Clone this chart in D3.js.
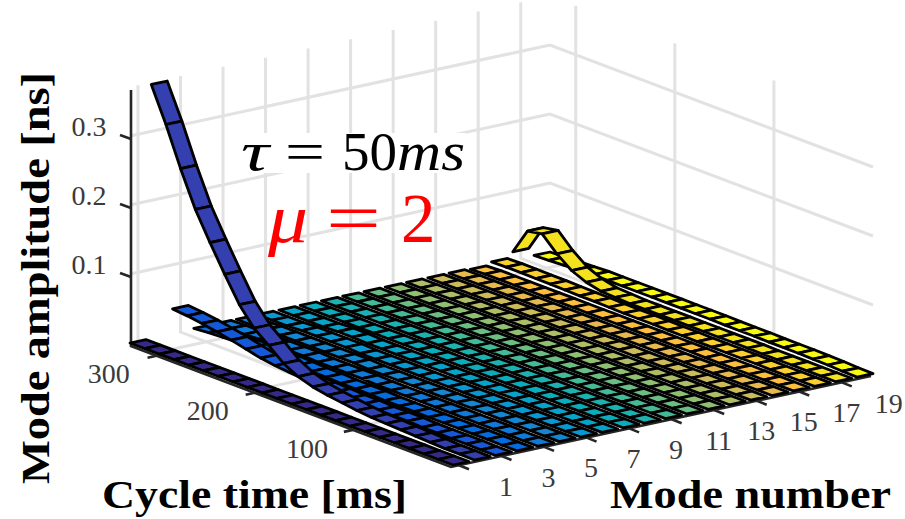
<!DOCTYPE html>
<html><head><meta charset="utf-8">
<script src="https://cdn.jsdelivr.net/npm/d3@7/dist/d3.min.js"></script>
<style>html,body{margin:0;padding:0;background:#fff}svg{display:block}text{font-family:"Liberation Serif",serif}</style>
</head><body><svg id="c" width="905" height="519"></svg>
<script>
const cycleTimes=[0,14.8,29.6,44.5,59.3,74.1,88.9,103.7,118.5,133.4,148.2,163,177.8,192.6,207.5,222.3,237.1,251.9,266.7,281.5,296.4,311.2,326];
const modeTicks=[1,3,5,7,9,11,13,15,17,19];
const timeTicks=[100,200,300];
const ampTicks=[0.1,0.2,0.3];
const ampTickLabels=["0.1","0.2","0.3"];
// listed from the longest cycle time down to the shortest
const amp1=[0,0,0,0,0,0,0,0,0,0,0,0,0,0,0,0,0,0,0,0,0,0,0];
const amp2=[.368,.318,.262,.211,.171,.133,.097,.071,.054,.036,.025,.018,.014,.011,.008,.006,.005,.004,.003,.002,.001,.001,.0005];
const amp3=[.036,.034,.031,.027,.023,.018,.013,.010,.008,.006,.005,.004,.003,.003,.002,.002,.002,.001,.001,.001,.001,.0005,.0005];
const amp4=[.001,.003,.004,.005,.006,.006,.005,.004,.003,.003,.002,.002,.002,.001,.001,.001,.001,.001,.001,.001,.001,.0005,.0005];
const amp5=[.001,.002,.002,.003,.003,.003,.003,.002,.002,.002,.002,.001,.001,.001,.001,.001,.001,.001,.001,.001,.0005,.0005,.0005];
const amp6=[.001,.001,.002,.002,.002,.002,.002,.002,.002,.001,.001,.001,.001,.001,.001,.001,.001,.001,.001,.0005,.0005,.0005,.0005];
const amp7=[.001,.001,.001,.002,.002,.002,.002,.001,.001,.001,.001,.001,.001,.001,.001,.001,.001,.001,.0005,.0005,.0005,.0005,.0005];
const amp8=[.001,.001,.001,.001,.002,.002,.001,.001,.001,.001,.001,.001,.001,.001,.001,.001,.001,.0005,.0005,.0005,.0005,.0005,.0005];
const amp9=[.001,.001,.001,.001,.001,.001,.001,.001,.001,.001,.001,.001,.001,.001,.001,.001,.0005,.0005,.0005,.0005,.0005,.0005,.0005];
const amp10=[.001,.001,.001,.001,.001,.001,.001,.001,.001,.001,.001,.001,.001,.001,.001,.0005,.0005,.0005,.0005,.0005,.0005,.0005,.0005];
const amp11=[.001,.001,.001,.001,.001,.001,.001,.001,.001,.001,.001,.001,.001,.001,.0005,.0005,.0005,.0005,.0005,.0005,.0005,.0005,.0005];
const amp12=[.001,.001,.001,.001,.001,.001,.001,.001,.001,.001,.001,.001,.001,.0005,.0005,.0005,.0005,.0005,.0005,.0005,.0005,.0005,.0005];
const amp13=[.001,.001,.001,.001,.001,.001,.001,.001,.001,.001,.001,.001,.0005,.0005,.0005,.0005,.0005,.0005,.0005,.0005,.0005,.0005,.0005];
const amp14=[.001,.001,.001,.001,.001,.001,.001,.001,.001,.001,.001,.001,.001,.0005,.0005,.0005,.0005,.0005,.0005,.0005,.0005,.0005,.0005];
const amp15=[.001,.001,.001,.001,.001,.001,.001,.001,.001,.001,.001,.001,.001,.001,.0005,.0005,.0005,.0005,.0005,.0005,.0005,.0005,.0005];
const amp16=[.001,.001,.001,.001,.001,.001,.001,.001,.001,.001,.001,.001,.001,.001,.001,.0005,.0005,.0005,.0005,.0005,.0005,.0005,.0005];
const amp17=[.000,.001,.001,.001,.001,.001,.001,.001,.001,.001,.001,.001,.001,.001,.001,.001,.0005,.0005,.0005,.0005,.0005,.0005,.0005];
const amp18=[.004,.0045,.0045,.004,.004,.0035,.003,.003,.0025,.002,.002,.002,.0015,.0015,.001,.001,.001,.001,.001,.0005,.0005,.0005,.0005];
const amp19=[.012,.050,.054,.033,.017,.008,.003,.002,.001,.001,.001,.001,.001,.001,.001,.001,.001,.0005,.0005,.0005,.0005,.0005,.0005];
const amp20=[.000,.001,.002,.003,.004,.004,.004,.004,.004,.004,.004,.004,.004,.0035,.0035,.0035,.003,.003,.003,.0025,.002,.001,.0005];
const amplitudes=[amp1,amp2,amp3,amp4,amp5,amp6,amp7,amp8,amp9,amp10,amp11,amp12,amp13,amp14,amp15,amp16,amp17,amp18,amp19,amp20];
const ribbonColors=["#352a87","#3440b0","#1658da","#046ce0","#117ad9","#1487d3","#0998d1","#06a4c9","#0cadbb","#1bb2b0","#44bb97","#6bbe83","#8fbf73","#afbd67","#ccbb5b","#e6b94f","#fdbe3d","#fbcf2c","#f4e21e","#f9fb0e"];
const ribbonHalfWidth=0.375;

const svg=d3.select("#c");
const modeS=d3.scaleLinear().domain([0.625,20.375]).range([0,1]);
const timeS=d3.scaleLinear().domain([0,326]).range([0,1]);
const ampS=d3.scaleLinear().domain([0,0.371]).range([0,256]);
const O=[453,465],MV=[420,-91],TV=[-323,-122];
const P=(m,t,z=0)=>{const a=modeS(m),b=timeS(t);return [O[0]+a*MV[0]+b*TV[0],O[1]+a*MV[1]+b*TV[1]-ampS(z)];};
const line=d3.line();
const N=amplitudes[0].length;
const tMax=326,zTop=0.371,mLo=0.625,mHi=20.375;

// grid
const grid=svg.append("g").attr("fill","none").attr("stroke","#e2e2e2").attr("stroke-width",3);
modeTicks.forEach(m=>{
  grid.append("path").attr("d",line([P(m,tMax,zTop),P(m,tMax,0),P(m,0,0)]));
});
timeTicks.forEach(t=>{
  grid.append("path").attr("d",line([P(mHi,t,zTop),P(mHi,t,0),P(mLo,t,0)]));
});
ampTicks.forEach(z=>{
  grid.append("path").attr("d",line([P(mLo,tMax,z),P(mHi,tMax,z),P(mHi,0,z)]));
});

// white label box
svg.append("rect").attr("x",238).attr("y",133).attr("width",228).attr("height",40).attr("fill","#fff");

// axes
const axisColor="#262626";
const ax=svg.append("g").attr("fill","none").attr("stroke",axisColor).attr("stroke-width",2.6);
const offX=d3.scaleLinear().domain([0,326]).range([-2,1]);
const offY=d3.scaleLinear().domain([0,326]).range([2,3]);
const Pa=(m,t,z=0)=>{const p=P(m,t,z);return [p[0]+offX(t),p[1]+offY(t)];};
ax.append("path").attr("d",line([Pa(mLo,tMax,zTop),Pa(mLo,tMax,0),Pa(mLo,0,0),Pa(mHi,0,0)]));
ampTicks.forEach(z=>{const p=Pa(mLo,tMax,z);ax.append("path").attr("d",line([p,[p[0]-11,p[1]-4]]));});
timeTicks.forEach(t=>{const p=Pa(mLo,t,0);ax.append("path").attr("d",line([p,[p[0]-9,p[1]+2]]));});
modeTicks.forEach(m=>{const p=Pa(m,0,0);ax.append("path").attr("d",line([p,[p[0]+10,p[1]+4]]));});

// ribbons, far to near
const rib=svg.append("g").attr("stroke","#000").attr("stroke-width",2.8).attr("stroke-linejoin","round");
for(let r=amplitudes.length-1;r>=0;r--){
  const m=r+1,zs=amplitudes[r];
  for(let i=0;i<N-1;i++){
    const t0=cycleTimes[N-1-i],t1=cycleTimes[N-2-i];
    rib.append("path").attr("fill",ribbonColors[r]).attr("d",line([
      P(m-ribbonHalfWidth,t0,zs[i]),P(m+ribbonHalfWidth,t0,zs[i]),
      P(m+ribbonHalfWidth,t1,zs[i+1]),P(m-ribbonHalfWidth,t1,zs[i+1])])+"Z");
  }
}

// tick labels
const tl=svg.append("g").attr("fill","#3a3a3a").attr("font-size",28).attr("text-anchor","middle");
modeTicks.forEach(m=>{const p=P(m,0,0);tl.append("text").attr("x",p[0]+45).attr("y",p[1]+32.5).text(m);});
timeTicks.forEach(t=>{const p=P(mLo,t,0);tl.append("text").attr("x",p[0]-47).attr("y",p[1]+30).text(t);});
ampTicks.forEach((z,i)=>{const p=Pa(mLo,tMax,z);tl.append("text").attr("x",89).attr("y",p[1]-3).text(ampTickLabels[i]);});

// axis titles
const tb=svg.append("g").attr("fill","#000").attr("font-size",41).attr("font-weight","bold");
tb.append("text").attr("x",102).attr("y",508).attr("textLength",305).attr("lengthAdjust","spacingAndGlyphs").text("Cycle time [ms]");
tb.append("text").attr("x",610).attr("y",508).attr("textLength",281).attr("lengthAdjust","spacingAndGlyphs").text("Mode number");
tb.append("text").attr("transform","translate(49,484) rotate(-90)").attr("textLength",412).attr("lengthAdjust","spacingAndGlyphs").text("Mode amplitude [ns]");

// annotations
const ann=svg.append("g").attr("fill","#000").attr("font-size",55);
ann.append("text").attr("x",241).attr("y",170).attr("font-style","italic").attr("textLength",28).attr("lengthAdjust","spacingAndGlyphs").text("τ");
ann.append("text").attr("x",285).attr("y",170).attr("textLength",40).attr("lengthAdjust","spacingAndGlyphs").text("=");
ann.append("text").attr("x",342).attr("y",170).text("50");
ann.append("text").attr("x",397).attr("y",170).attr("font-style","italic").attr("textLength",68).attr("lengthAdjust","spacingAndGlyphs").text("ms");
const ann2=svg.append("g").attr("fill","#f00").attr("font-size",69);
ann2.append("text").attr("x",268).attr("y",242).attr("font-style","italic").attr("textLength",40).attr("lengthAdjust","spacingAndGlyphs").text("μ");
ann2.append("text").attr("x",326).attr("y",242).attr("textLength",55).attr("lengthAdjust","spacingAndGlyphs").text("=");
ann2.append("text").attr("x",401).attr("y",242).text("2");
</script></body></html>
